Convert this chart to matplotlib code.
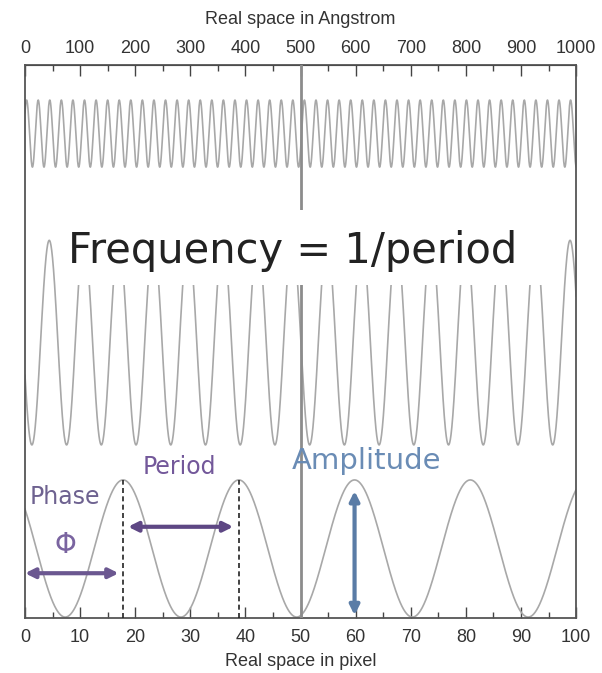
import matplotlib
matplotlib.use("Agg")
import matplotlib.pyplot as plt
from matplotlib.patches import Rectangle
import numpy as np

# wave parameters (x in pixels, y in axes fraction)
wave_names = ["fine", "medium", "coarse"]
periods = [2.1, 6.3, 21.0]
peak_pos = [2.4, 4.4, 17.8]
baselines = [0.876, 0.498, 0.1257]
amplitudes = [0.0606, 0.185, 0.124]

pix_ticks = list(range(0, 101, 10))
ang_ticks = list(range(0, 1001, 100))

plt.rcParams['font.family'] = ['Liberation Sans', 'DejaVu Sans']

fig = plt.figure(figsize=(6.02, 6.73), dpi=100)
ax = fig.add_axes([0.0415, 0.0817, 0.9155, 0.8217])

x = np.linspace(0, 100, 4001)
for p, x0, b, a in zip(periods, peak_pos, baselines, amplitudes):
    y = b + a * np.cos(2 * np.pi * (x - x0) / p)
    ax.plot(x, y, color='#a8a8a8', lw=1.2, zorder=2)

ax.axvline(50, color='#8c8c8c', lw=2, zorder=3)

ax.set_xlim(0, 100)
ax.set_ylim(0, 1)
ax.set_yticks([])
ax.set_xticks(pix_ticks)
ax.set_xticks(np.arange(5, 100, 10), minor=True)
ax.tick_params(axis='x', which='both', direction='in', colors='#444',
               labelcolor='#333', labelsize=13, pad=8)
ax.tick_params(axis='x', which='major', length=8, width=1)
ax.tick_params(axis='x', which='minor', length=4, width=1)
ax.set_xlabel("Real space in pixel", fontsize=13, color='#333', labelpad=5)
for s in ax.spines.values():
    s.set_color('#555')
    s.set_linewidth(1.3)

top = ax.secondary_xaxis('top', functions=(lambda v: v * 10, lambda v: v / 10))
top.set_xticks(ang_ticks)
top.set_xticks(np.arange(50, 1000, 100), minor=True)
top.tick_params(axis='x', which='both', direction='in', colors='#444',
                labelcolor='#333', labelsize=13, pad=6)
top.tick_params(axis='x', which='major', length=8, width=1)
top.tick_params(axis='x', which='minor', length=4, width=1)
top.set_xlabel("Real space in Angstrom", fontsize=13, color='#333', labelpad=11)

# white panel hiding the wave crests behind the big label
ax.add_patch(Rectangle((0.06, 0.602), 0.911, 0.136, transform=ax.transAxes,
                       facecolor='white', edgecolor='none', zorder=4))
ax.text(48.5, 0.663, "Frequency = 1/period", fontsize=30, color='#222',
        family='DejaVu Sans', ha='center', va='center', zorder=5)

# annotations on the coarse wave
cp, cx0, cb, ca = periods[2], peak_pos[2], baselines[2], amplitudes[2]
pk1, pk2 = cx0, cx0 + cp
for pk in (pk1, pk2):
    ax.plot([pk, pk], [0, cb + ca], color='#222', ls=(0, (3, 2)), lw=1.2, zorder=4)

purple = '#6b5790'
ax.annotate("", xy=(0, 0.081), xytext=(pk1 - 0.8, 0.081),
            arrowprops=dict(arrowstyle='<|-|>', color=purple, lw=3,
                            mutation_scale=14, shrinkA=0, shrinkB=0), zorder=6)
ax.annotate("", xy=(pk1 + 0.9, 0.165), xytext=(pk2 - 1.0, 0.165),
            arrowprops=dict(arrowstyle='<|-|>', color='#5e4784', lw=3,
                            mutation_scale=14, shrinkA=0, shrinkB=0), zorder=6)
amp_x = cx0 + 2 * cp
ax.annotate("", xy=(amp_x, cb + ca - 0.02), xytext=(amp_x, 0.005),
            arrowprops=dict(arrowstyle='<|-|>', color='#5a7ca6', lw=3,
                            mutation_scale=14, shrinkA=0, shrinkB=0), zorder=6)

ax.text(7.3, 0.219, "Phase", fontsize=17, color='#6e6290', family='DejaVu Sans',
        ha='center', va='center', zorder=6)
ax.text(7.4, 0.132, "Φ", fontsize=20, color='#7a64a0', family='DejaVu Sans',
        ha='center', va='center', zorder=6)
ax.text(28.1, 0.273, "Period", fontsize=17, color='#73589a', family='DejaVu Sans',
        ha='center', va='center', zorder=6)
ax.text(62.0, 0.284, "Amplitude", fontsize=21, color='#6a8cb5', family='DejaVu Sans',
        ha='center', va='center', zorder=6)

fig.savefig("out.png", dpi=100)
